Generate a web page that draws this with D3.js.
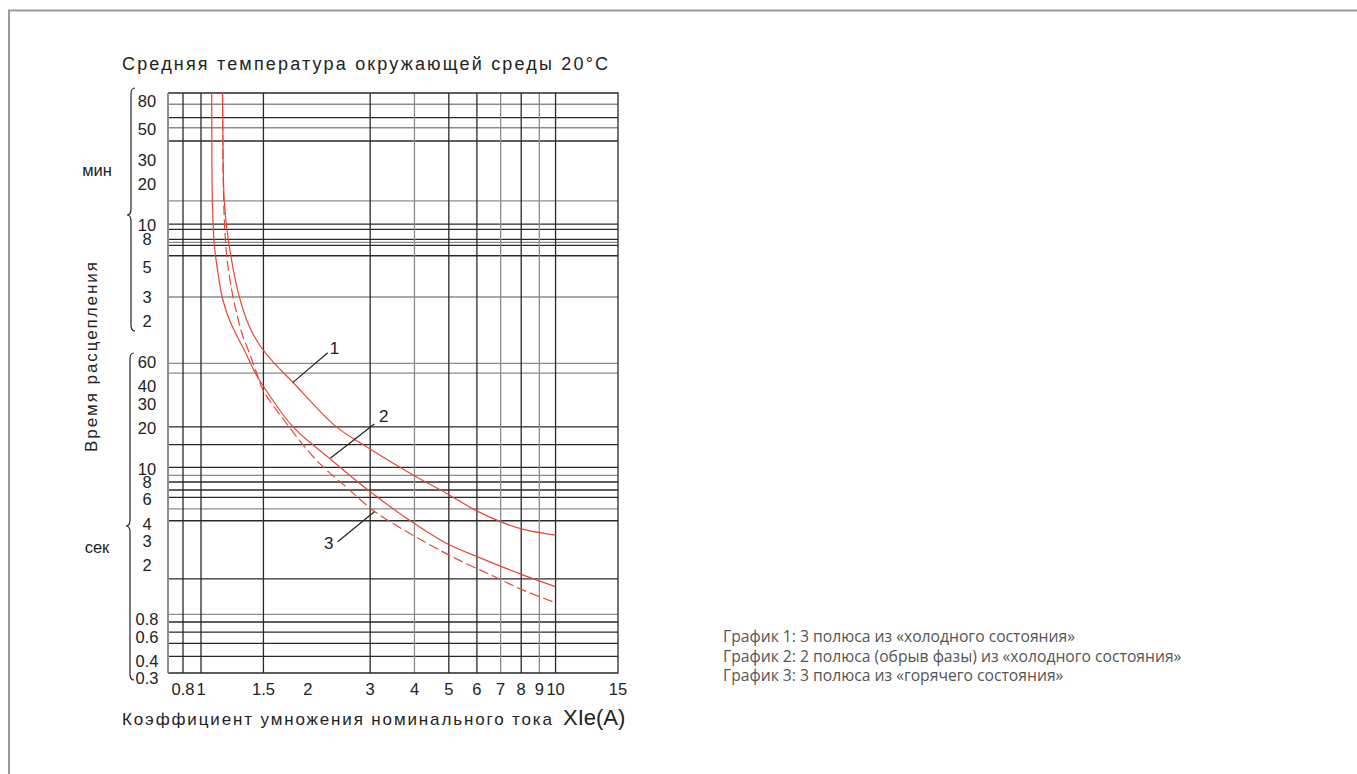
<!DOCTYPE html>
<html>
<head>
<meta charset="utf-8">
<script src="https://cdn.jsdelivr.net/npm/d3@7"></script>
<style>
	body { margin:0; background:#fff; }
	text { font-family:"Liberation Sans", Arial, sans-serif; fill:#222; }
	.legend text { font-family:"Open Sans", "Noto Sans", sans-serif; fill:#555; font-size:15.7px; }
</style>
</head>
<body>
<div id="viz"></div>
<script>

// current multiple (x Ie)
var xTicks = [0.8, 1, 1.5, 2, 3, 4, 5, 6, 7, 8, 9, 10, 15];
var xGridDark = [0.8, 1, 1.5, 3, 5, 6, 8, 10];
var xGridGray = [4, 7, 9];

// trip time labels, minutes and seconds
var minTicks = [80, 50, 30, 20, 10, 8, 5, 3, 2];
var secTicks = [60, 40, 30, 20, 10, 8, 6, 4, 3, 2, 0.8, 0.6, 0.4, 0.3];

// horizontal grid lines (minutes / seconds)
var minGridDark = [61, 41.2, 10.2, 9.35, 7.9, 7.15, 6.0];
var minGridGray = [76.4, 51.5, 15.1, 7.5, 3.0];
var secGridDark = [20.3, 15.1, 10.3, 8.05, 7.04, 6.21, 4.2, 1.58, 0.767, 0.648, 0.536, 0.431];
var secGridGray = [59.1, 50.2, 9.0, 5.12, 0.873];

// curves: current multiple and trip time in seconds
var curve1I = [1.15, 1.15, 1.157, 1.163, 1.181, 1.214, 1.279, 1.364, 1.465, 1.593, 1.816, 2.405, 2.92, 3.95, 4.9, 5.95, 7.22, 8.22, 10];
var curve1T = [7000, 5500, 1285, 907, 586, 358, 186, 112, 80, 61, 43, 20.4, 14.6, 9.1, 6.7, 5.0, 4.0, 3.6, 3.3];

var curve2I = [1.07, 1.072, 1.074, 1.079, 1.091, 1.12, 1.149, 1.198, 1.254, 1.338, 1.418, 1.481, 1.816, 2.303, 2.984, 3.865, 4.9, 6.08, 8.04, 10];
var curve2T = [7000, 5500, 1285, 738, 424, 256, 177, 126, 97, 70, 51, 42.3, 20.4, 12.0, 6.92, 4.25, 2.89, 2.27, 1.70, 1.39];

var curve3I = [1.15, 1.15, 1.155, 1.162, 1.172, 1.187, 1.218, 1.254, 1.304, 1.373, 1.434, 1.496, 1.741, 2.113, 2.567, 3.115, 4.33, 5.38, 6.67, 8.1, 10];
var curve3T = [7000, 5500, 1285, 713, 469, 324, 209, 145, 98, 69, 50.5, 37.8, 21.6, 11.65, 7.40, 4.83, 2.89, 2.15, 1.66, 1.31, 1.06];

// curve number callouts: label point, leader start, leader end
var callouts = [
	{name:"1", lab:[2.38, 76.4], p0:[2.277, 70.6], p1:[1.814, 42.7]},
	{name:"2", lab:[3.275, 24.4], p0:[3.082, 21.3], p1:[2.316, 12.0]},
	{name:"3", lab:[2.291, 2.88], p0:[2.43, 2.95], p1:[3.082, 4.89]}
];

var legendLines = [
	"График 1: 3 полюса из «холодного состояния»",
	"График 2: 2 полюса (обрыв фазы) из «холодного состояния»",
	"График 3: 3 полюса из «горячего состояния»"
];

var width = 1357, height = 774;
var plotLeft = 168, plotTop = 93, plotBottom = 673;

var svg = d3.select("#viz")
	.append("svg")
	.attr("width", width)
	.attr("height", height);

var x = d3.scaleLog().domain([0.8, 1, 15]).range([183, 201, 618]);
var y = d3.scaleLog().domain([1, 1000]).range([606.2, 194.9]);
var plotRight = x(15);

// outer frame
svg.append("path")
	.attr("d", "M9,774V10.5H1357")
	.attr("fill", "none")
	.attr("stroke", "#9a9a9a")
	.attr("stroke-width", 2);

svg.append("text")
	.attr("x", 122).attr("y", 70)
	.attr("font-size", 18)
	.attr("textLength", 486)
	.attr("lengthAdjust", "spacing")
	.text("Средняя температура окружающей среды 20°C");

var grid = svg.append("g");

var hLines = [];
minGridDark.forEach(d=>hLines.push({t:d*60, dark:true}));
minGridGray.forEach(d=>hLines.push({t:d*60, dark:false}));
secGridDark.forEach(d=>hLines.push({t:d, dark:true}));
secGridGray.forEach(d=>hLines.push({t:d, dark:false}));

grid.selectAll("line.h")
	.data(hLines)
	.enter()
	.append("line")
	.attr("x1", plotLeft).attr("x2", plotRight)
	.attr("y1", d=>y(d.t)).attr("y2", d=>y(d.t))
	.attr("stroke", d=>d.dark ? "#2a2a2a" : "#8c8c8c")
	.attr("stroke-width", 1.3);

var vLines = xGridDark.map(d=>({v:d, dark:true})).concat(xGridGray.map(d=>({v:d, dark:false})));

grid.selectAll("line.v")
	.data(vLines)
	.enter()
	.append("line")
	.attr("y1", plotTop).attr("y2", plotBottom)
	.attr("x1", d=>x(d.v)).attr("x2", d=>x(d.v))
	.attr("stroke", d=>d.dark ? "#2a2a2a" : "#8c8c8c")
	.attr("stroke-width", 1.3);

// plot border
grid.append("path")
	.attr("d", `M${plotLeft},${plotBottom}H${plotRight}V${plotTop}H${plotLeft}`)
	.attr("fill", "none")
	.attr("stroke", "#2a2a2a")
	.attr("stroke-width", 1.3);
grid.append("line")
	.attr("x1", plotLeft).attr("x2", plotLeft)
	.attr("y1", plotTop).attr("y2", plotBottom)
	.attr("stroke", "#8c8c8c")
	.attr("stroke-width", 2);

// x tick labels
svg.selectAll("text.xt")
	.data(xTicks)
	.enter()
	.append("text")
	.attr("x", d=>x(d))
	.attr("y", 695)
	.attr("text-anchor", "middle")
	.attr("font-size", 16.5)
	.text(d=>d);

// y tick labels
var yLabels = minTicks.map(d=>({t:d*60, s:d})).concat(secTicks.map(d=>({t:d, s:d})));
svg.selectAll("text.yt")
	.data(yLabels)
	.enter()
	.append("text")
	.attr("x", 147)
	.attr("y", d=>y(d.t))
	.attr("dy", "0.36em")
	.attr("text-anchor", "middle")
	.attr("font-size", 16.5)
	.text(d=>d.s);

// braces
function brace(bx, y0, ym, y1){
	var w = 4, r = 6;
	return `M${bx+w},${y0} Q${bx},${y0} ${bx},${y0+r} V${ym-r} Q${bx},${ym} ${bx-w},${ym} `
		+ `Q${bx},${ym} ${bx},${ym+r} V${y1-r} Q${bx},${y1} ${bx+w},${y1}`;
}
svg.append("path")
	.attr("d", brace(131, 88, 215, 331))
	.attr("fill", "none").attr("stroke", "#222").attr("stroke-width", 1.2);
svg.append("path")
	.attr("d", brace(130, 353, 526, 680))
	.attr("fill", "none").attr("stroke", "#222").attr("stroke-width", 1.2);

svg.append("text").attr("x", 97).attr("y", 176).attr("text-anchor", "middle").attr("font-size", 16.5).text("мин");
svg.append("text").attr("x", 97).attr("y", 553).attr("text-anchor", "middle").attr("font-size", 16.5).text("сек");
svg.append("text")
	.attr("transform", "translate(97,357) rotate(-90)")
	.attr("text-anchor", "middle")
	.attr("font-size", 17)
	.attr("textLength", 190)
	.attr("lengthAdjust", "spacing")
	.text("Время расцепления");

// x axis title
svg.append("text")
	.attr("x", 122).attr("y", 725)
	.attr("font-size", 17)
	.attr("textLength", 430)
	.attr("lengthAdjust", "spacing")
	.text("Коэффициент умножения номинального тока");
svg.append("text")
	.attr("x", 563).attr("y", 725)
	.attr("font-size", 22)
	.text("XIe(A)");

// curves
svg.append("clipPath").attr("id", "plot")
	.append("rect")
	.attr("x", plotLeft).attr("y", plotTop)
	.attr("width", plotRight - plotLeft).attr("height", plotBottom - plotTop);

var line = d3.line()
	.x(d=>x(d[0]))
	.y(d=>y(d[1]))
	.curve(d3.curveCatmullRom.alpha(0.5));

var curves = [
	{pts:d3.zip(curve1I, curve1T), dash:null},
	{pts:d3.zip(curve2I, curve2T), dash:null},
	{pts:d3.zip(curve3I, curve3T), dash:"10,4"}
];

svg.append("g")
	.attr("clip-path", "url(#plot)")
	.selectAll("path")
	.data(curves)
	.enter()
	.append("path")
	.attr("d", d=>line(d.pts))
	.attr("fill", "none")
	.attr("stroke", "#e2483a")
	.attr("stroke-width", 1.2)
	.attr("stroke-dasharray", d=>d.dash);

// callouts
var co = svg.append("g");
co.selectAll("line")
	.data(callouts)
	.enter()
	.append("line")
	.attr("x1", d=>x(d.p0[0])).attr("y1", d=>y(d.p0[1]))
	.attr("x2", d=>x(d.p1[0])).attr("y2", d=>y(d.p1[1]))
	.attr("stroke", "#222")
	.attr("stroke-width", 1.2);
co.selectAll("text")
	.data(callouts)
	.enter()
	.append("text")
	.attr("x", d=>x(d.lab[0]))
	.attr("y", d=>y(d.lab[1]))
	.attr("dy", "0.36em")
	.attr("text-anchor", "middle")
	.attr("font-size", 17)
	.text(d=>d.name);

// legend
svg.append("g")
	.attr("class", "legend")
	.selectAll("text")
	.data(legendLines)
	.enter()
	.append("text")
	.attr("x", 723)
	.attr("y", (d,i)=>642 + i*19.5)
	.text(d=>d);

</script>
</body>
</html>
